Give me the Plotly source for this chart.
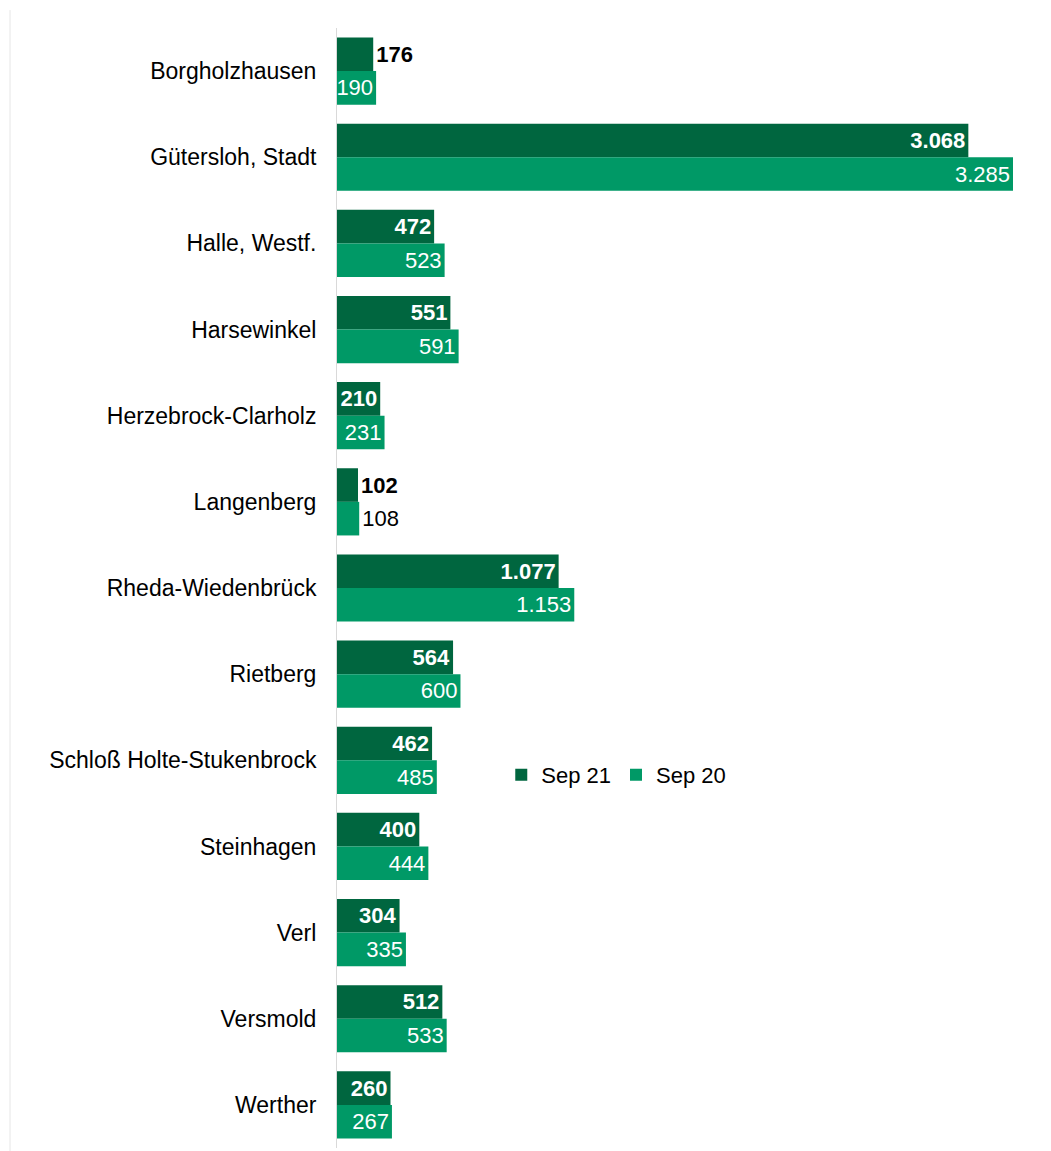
import plotly.graph_objects as go

categories = ["Borgholzhausen", "Gütersloh, Stadt", "Halle, Westf.", "Harsewinkel",
              "Herzebrock-Clarholz", "Langenberg", "Rheda-Wiedenbrück", "Rietberg",
              "Schloß Holte-Stukenbrock", "Steinhagen", "Verl", "Versmold", "Werther"]
sep21 = [176, 3068, 472, 551, 210, 102, 1077, 564, 462, 400, 304, 512, 260]
sep20 = [190, 3285, 523, 591, 231, 108, 1153, 600, 485, 444, 335, 533, 267]

DARK = "#00663F"
LIGHT = "#009966"
FONT = "Liberation Sans, Arial, sans-serif"
FS = 23

pos21 = ["outside" if v < 200 else "inside" for v in sep21]
pos20 = ["outside" if v < 150 else "inside" for v in sep20]

fig = go.Figure()
fig.add_trace(go.Bar(
    y=categories, x=sep21, name="Sep 21", orientation="h",
    marker=dict(color=DARK, line=dict(width=0)),
    texttemplate="%{x:,}", textposition=pos21, insidetextanchor="end",
    constraintext="none", cliponaxis=False, textangle=0,
    insidetextfont=dict(family=FONT, size=FS - 1, color="white", weight="bold"),
    outsidetextfont=dict(family=FONT, size=FS - 1, color="black", weight="bold"),
))
fig.add_trace(go.Bar(
    y=categories, x=sep20, name="Sep 20", orientation="h",
    marker=dict(color=LIGHT, line=dict(width=0)),
    texttemplate="%{x:,}", textposition=pos20, insidetextanchor="end",
    constraintext="none", cliponaxis=False, textangle=0,
    insidetextfont=dict(family=FONT, size=FS - 1, color="white"),
    outsidetextfont=dict(family=FONT, size=FS - 1, color="black"),
))

fig.update_layout(
    width=1051, height=1151,
    margin=dict(l=337, r=38, t=28, b=3),
    paper_bgcolor="white", plot_bgcolor="white",
    barmode="group", bargap=0.22, bargroupgap=0,
    separators=",.",
    font=dict(family=FONT, size=FS, color="black"),
    showlegend=True,
    legend=dict(orientation="h", x=0.243, y=0.333, xanchor="left", yanchor="middle",
                font=dict(family=FONT, size=FS - 1), bgcolor="rgba(0,0,0,0)",
                itemwidth=30, tracegroupgap=0),
    xaxis=dict(range=[0, 3285], showticklabels=False, showgrid=False, zeroline=False,
               showline=False, ticks=""),
    yaxis=dict(categoryorder="array", categoryarray=categories, autorange="reversed",
               showgrid=False, zeroline=False, showline=True, linecolor="#D9D9D9",
               linewidth=1, ticks="", ticklabelstandoff=15,
               tickfont=dict(family=FONT, size=FS)),
    shapes=[dict(type="line", xref="paper", yref="paper",
                 x0=-0.4837, x1=-0.4837, y0=-0.01, y1=1.016,
                 line=dict(color="#E6E6E6", width=1))],
)

fig.write_html("out.html")
